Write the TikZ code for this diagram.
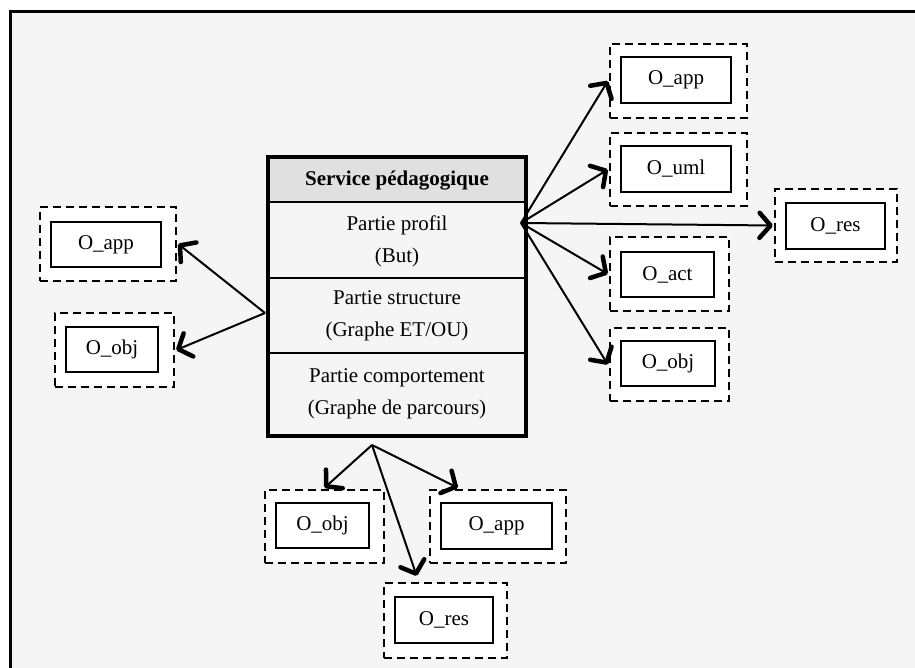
\documentclass[tikz,border=0pt]{standalone}
\usepackage{fontspec}
\setmainfont{Liberation Serif}
\usetikzlibrary{arrows.meta,calc}
\definecolor{bggray}{HTML}{F5F5F5}
\definecolor{hdgray}{HTML}{E0E0E0}
\tikzset{
  outerbox/.style={draw, dashed, dash pattern=on 8pt off 5pt, line width=2.4pt, fill=white, inner sep=0pt},
  innerbox/.style={draw, line width=2.2pt, fill=white, inner sep=0pt, font=\fontsize{21}{25}\selectfont},
  link/.style={line width=2pt, -{Straight Barb[length=11pt,width=25pt,line width=4.5pt,round]}},
  rowtext/.style={font=\fontsize{21}{32}\selectfont, align=center, inner sep=0pt},
}
\begin{document}
\begin{tikzpicture}[x=1pt,y=-1pt]
\useasboundingbox (0,0) rectangle (915,668);
\fill[white] (0,0) rectangle (915,668);
\draw[line width=3pt, fill=bggray] (10,12) rectangle (930,690);

% main service box
\fill[hdgray] (268,158) rectangle (526,202);
\draw[line width=1.8pt] (268,202) -- (526,202);
\draw[line width=1.8pt] (268,278) -- (526,278);
\draw[line width=1.8pt] (268,353) -- (526,353);
\node[draw, line width=4.5pt, minimum width=258pt, minimum height=279pt, inner sep=0pt] (svc) at (397,296.5) {};
\node[rowtext, font=\fontsize{21}{25}\selectfont\bfseries] (hdr) at (397,181) {Service pédagogique};
\node[rowtext] (prof) at (397,241) {Partie profil\\(But)};
\node[rowtext] (struc) at (397,316) {Partie structure\\(Graphe ET/OU)};
\node[rowtext] (comp) at (397,394) {Partie comportement\\(Graphe de parcours)};

\coordinate (pr) at (521,223);
\coordinate (pl) at (265,313);
\coordinate (pb) at (372,445);

% left
\node[outerbox, minimum width=136pt, minimum height=74pt] (lapp) at (108,244) {};
\node[innerbox, minimum width=110pt, minimum height=45pt] (lappi) at (106,244.5) {O\_app};
\node[outerbox, minimum width=119pt, minimum height=74pt] (lobj) at (114.5,350) {};
\node[innerbox, minimum width=92pt, minimum height=45pt] (lobji) at (112,349.5) {O\_obj};

% right
\node[outerbox, minimum width=137pt, minimum height=74pt] (rapp) at (678.5,81) {};
\node[innerbox, minimum width=110pt, minimum height=46pt] (rappi) at (676,80) {O\_app};
\node[outerbox, minimum width=137pt, minimum height=73pt] (ruml) at (678.5,169.5) {};
\node[innerbox, minimum width=110pt, minimum height=46pt] (rumli) at (676,169) {O\_uml};
\node[outerbox, minimum width=122pt, minimum height=73pt] (rres) at (836,225.5) {};
\node[innerbox, minimum width=99pt, minimum height=46pt] (rresi) at (835.5,226) {O\_res};
\node[outerbox, minimum width=119pt, minimum height=74pt] (ract) at (669.5,274) {};
\node[innerbox, minimum width=93pt, minimum height=45pt] (racti) at (667.5,274.5) {O\_act};
\node[outerbox, minimum width=119pt, minimum height=73pt] (robj) at (669.5,364.5) {};
\node[innerbox, minimum width=94pt, minimum height=45pt] (robji) at (668,363.5) {O\_obj};

% bottom
\node[outerbox, minimum width=119pt, minimum height=73pt] (bobj) at (324.5,526.5) {};
\node[innerbox, minimum width=93pt, minimum height=45pt] (bobji) at (322.5,525.5) {O\_obj};
\node[outerbox, minimum width=136pt, minimum height=73pt] (bapp) at (498,526.5) {};
\node[innerbox, minimum width=111pt, minimum height=46pt] (bappi) at (496.5,526) {O\_app};
\node[outerbox, minimum width=123pt, minimum height=75pt] (bres) at (445.5,620.5) {};
\node[innerbox, minimum width=98pt, minimum height=46pt] (bresi) at (444,620) {O\_res};

% connectors
\draw[link] (pl) -- ($(lapp.east)+(1,0)$);
\draw[link] (pl) -- ($(lobj.east)+(1,0)$);
\draw[link] (pr) -- ($(rapp.west)+(-1,0)$);
\draw[link] (pr) -- ($(ruml.west)+(-1,0)$);
\draw[link] (pr) -- ($(rres.west)+(-1,0)$);
\draw[link] (pr) -- ($(ract.west)+(-1,0)$);
\draw[link] (pr) -- ($(robj.west)+(-1,0)$);
\draw[link] (pb) -- ($(bobj.north)+(0,-1)$);
\draw[link] (pb) -- ($(bapp.north west)!0.21!(bapp.north east)+(0,-1)$);
\draw[link] (pb) -- ($(bres.north west)!0.27!(bres.north east)+(0,-6)$);
\end{tikzpicture}
\end{document}
